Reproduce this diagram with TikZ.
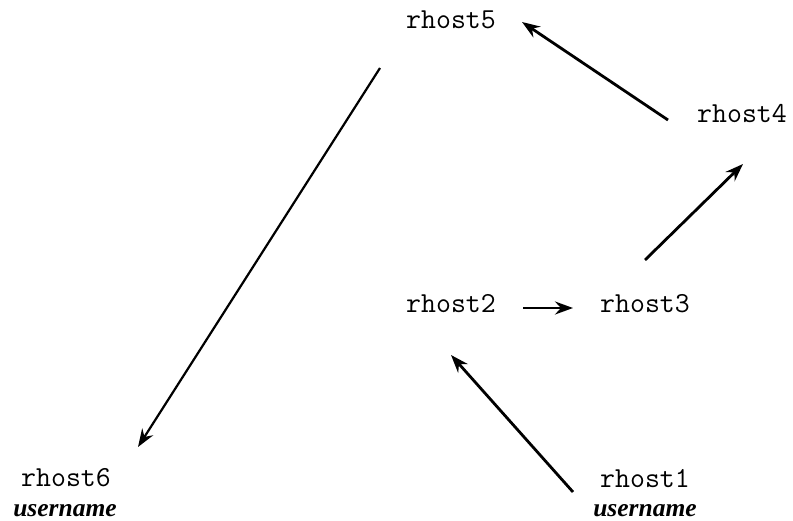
\documentclass[tikz,border=0pt]{standalone}
\usepackage{fontspec}
\newfontfamily\userfont{Liberation Serif}
\usepackage{tikz}
\usetikzlibrary{arrows.meta,calc}
\tikzstyle{host}=[inner sep=0pt,anchor=base,font=\fontsize{29}{32}\selectfont\ttfamily]
\tikzstyle{user}=[inner sep=0pt,anchor=base,font=\fontsize{25.5}{30}\selectfont\userfont\bfseries\itshape]
\tikzstyle{hop}=[black,line width=2.8pt,-{Stealth[length=18pt,width=13pt,inset=6pt]}]

\begin{document}
\begin{tikzpicture}[x=1pt,y=-1pt]
  \useasboundingbox (0,0) rectangle (793,521);
  \node at (451, 29) [host] (Host5) {rhost5};
  \node at (742,123) [host] (Host4) {rhost4};
  \node at (451,313) [host] (Host2) {rhost2};
  \node at (645,313) [host] (Host3) {rhost3};
  \node at (645,487) [host] (Host1) {rhost1};
  \node at (645,516) [user] (User1) {username};
  \node at ( 66,486) [host] (Host6) {rhost6};
  \node at ( 65,516) [user] (User6) {username};
  \draw [hop] ($(Host1.base)+(-72,5)$) to ($(Host2.base)+(0,42)$);
  \draw [hop] ($(Host2.base)+(72,-5)$) to ($(Host3.base)+(-72,-5)$);
  \draw [hop] ($(Host3.base)+(0,-53)$) to ($(Host4.base)+(1,41)$);
  \draw [hop] ($(Host4.base)+(-74,-3)$) to ($(Host5.base)+(71,-7)$);
  \draw [hop,line width=2.2pt] ($(Host5.base)+(-71,39)$) to ($(Host6.base)+(72,-39)$);
\end{tikzpicture}
\end{document}
